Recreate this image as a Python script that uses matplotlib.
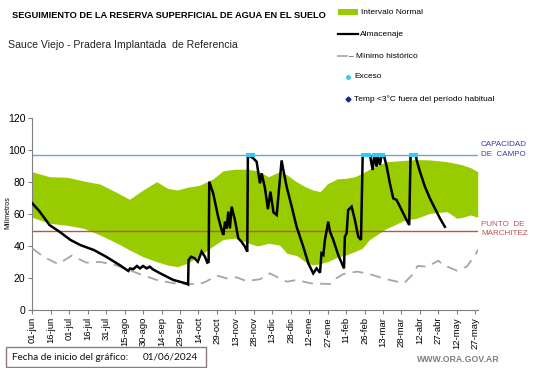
import matplotlib
matplotlib.use("Agg")
import matplotlib.pyplot as plt
from matplotlib.patches import Rectangle
from matplotlib.lines import Line2D

plt.rcParams['font.family'] = ['Liberation Sans', 'DejaVu Sans']

# ---- data (days since 01-jun-2024) ----
tick_labels = ['01-jun', '16-jun', '01-jul', '16-jul', '31-jul', '15-ago', '30-ago', '14-sep',
               '29-sep', '14-oct', '29-oct', '13-nov', '28-nov', '13-dic', '28-dic', '12-ene',
               '27-ene', '11-feb', '26-feb', '13-mar', '28-mar', '12-abr', '27-abr', '12-may', '27-may']
tick_days = [15 * i for i in range(len(tick_labels))]

band_days = [0, 14, 28, 42, 55, 69, 79, 90, 101, 110, 118, 126, 136, 147, 155, 165, 175, 183, 192, 201,
             207, 215, 222, 228, 234, 240, 248, 255, 262, 268, 274, 280, 288, 294, 302, 312, 323, 337,
             345, 350, 356, 362]
band_hi = [86.4, 83.3, 83, 80.6, 78.7, 73.3, 69.2, 75, 80.2, 76, 75, 76.7, 78, 82, 87, 88, 88, 87, 83.3, 86.5,
           84.4, 80, 77, 75, 74, 79, 82, 82.3, 83.3, 85.4, 88, 90, 92.7, 93, 93.5, 94, 93.8, 92.7,
           91.5, 90.6, 89, 86.5]
band_lo = [57.9, 54.2, 53, 51, 46.9, 41.7, 37.5, 33.3, 30.2, 28.1, 27.1, 29.2, 34, 40, 44, 45, 42, 40, 41.7, 40.6,
           35.4, 34, 30, 28.1, 29, 30.2, 33, 34.4, 36.5, 38.5, 44, 47, 51, 53, 56, 57.3, 60.4, 61.5,
           57.3, 58, 59.4, 58]

min_days = [0, 9, 21, 32, 44, 55, 66, 77, 88, 101, 115, 126, 136, 141, 150, 158, 166, 174, 185, 193,
            201, 207, 215, 226, 242, 247, 253, 264, 274, 285, 302, 310, 313, 321, 330, 334, 345, 353, 359, 363]
min_vals = [38.5, 33.3, 28.7, 34, 29.6, 30, 28.5, 25.4, 22.3, 18.8, 16.7, 16.2, 16.2, 17.7, 21.5, 19.8, 20.4,
            18.1, 19.2, 22.9, 19.8, 17.7, 18.8, 16.7, 16.2, 19.8, 22.5, 24, 22.5, 19.8, 16.7, 22.9, 27.5,
            27.1, 30.8, 28.1, 24.6, 27.1, 33.3, 38.5]

alm_days = [0, 6, 10, 14, 22, 31, 39, 50, 60, 71,
            78, 79.5, 82, 85, 87.5, 90, 93, 95.5, 98, 104,
            114.5, 125.4, 126.6, 127, 129, 132, 134.5, 137.6, 140.3, 142.2,
            143.3, 143.8, 147, 151, 153.9, 155.2, 156.6, 157.9, 159.3, 160.6,
            162, 164.7, 167.4, 170, 172.8, 174.7, 175.2, 179.6, 182.3, 185,
            186.4, 189.1, 191.5, 193.5, 196, 198.6, 202.6, 204, 206.7, 210.8, 214.8,
            220.2, 224.3, 228.3, 231, 233.8, 235, 236.5, 237.8, 240.5, 241.9,
            244.6, 248.6, 253.3, 254, 255.4, 256.7, 259.5, 262.2, 264.9, 267.1,
            268.5, 274.4, 276.6, 277.9, 279.8, 280.6, 282.5, 283.9, 286, 288,
            290.6, 293.3, 296, 297.4, 298.8, 302.8, 306.3, 307.4, 311.7, 312.3,
            315, 319.1, 323.1, 327.2, 331.3, 335.3]
alm_vals = [66.7, 61.5, 57.3, 53.1, 49, 43.8, 40.6, 37.5, 33.3, 28.1,
            24.4, 26, 25.5, 27.5, 26, 27.5, 26, 27.1, 25.4, 22.9,
            18.8, 16.5, 16, 31.2, 33.3, 32.3, 30.2, 36.5, 33.3, 29.6,
            30, 80.2, 72.9, 58.3, 50, 46.9, 55.2, 51, 61.5, 51,
            64.6, 56.2, 44.8, 42.7, 39.6, 36.5, 96.9, 94.8, 92.7, 79.2,
            85.4, 76, 63, 74, 61, 59.4, 93.5, 87.5, 77, 64.6, 52,
            39.6, 29.2, 22.9, 26, 23.3, 35.4, 34.4, 43.8, 55.2, 49,
            43.8, 34.4, 26, 45.8, 47.9, 62.5, 64.6, 56.2, 45.8, 43.8,
            96.9, 96.9, 87.5, 96.9, 89.6, 96.9, 90.6, 96.9, 95.8, 89.6,
            79.2, 69.8, 68.8, 66.7, 64.6, 58.3, 53.1, 96.9, 96.9, 93.8,
            86.5, 77, 69.8, 63.5, 57.3, 52]

exceso_days = [175, 176, 177, 178, 179, 269, 270, 271, 272, 273, 274, 278, 280, 281, 282, 284, 285,
               308, 309, 310, 311, 312]
capacidad_campo = 96.9
punto_marchitez = 49.4

# ---- figure ----
W, H = 541, 368
fig = plt.figure(figsize=(W / 100, H / 100), dpi=100)
ax = fig.add_axes([32.3 / W, 1 - 310 / H, (478 - 32.3) / W, (310 - 118) / H])

ax.fill_between(band_days, band_lo, band_hi, color='#99CC00', linewidth=0, zorder=1)
ax.axhline(capacidad_campo, color='#7F9CCF', lw=1.0, zorder=2)
ax.axhline(punto_marchitez, color='#C0504D', lw=1.0, zorder=2)
ax.plot(min_days, min_vals, color='#A6A6A6', lw=1.3, dashes=(6, 4), zorder=3)
ax.plot(alm_days, alm_vals, color='black', lw=1.8, zorder=4, solid_joinstyle='miter')
ax.scatter(exceso_days, [capacidad_campo] * len(exceso_days), s=9, marker='s', color='#33CCEE',
           linewidths=0, zorder=5)

ax.set_xlim(0, 362.2)
ax.set_ylim(0, 120)
ax.set_xticks(tick_days)
ax.set_xticklabels(tick_labels, rotation=90, fontsize=6.8)
ax.set_yticks(range(0, 121, 20))
ax.tick_params(axis='y', labelsize=7.5, length=3, color='#808080', pad=2)
ax.tick_params(axis='x', length=3, color='#808080', pad=2)
for s in ['top', 'right']:
    ax.spines[s].set_visible(False)
for s in ['left', 'bottom']:
    ax.spines[s].set_color('#808080')
ax.set_facecolor('none')
fig.text(7.5 / W, 1 - 213 / H, 'Milímetros', fontsize=5, rotation=90, va='center', ha='center')

# right annotations
fig.text(481 / W, 1 - 145 / H, 'CAPACIDAD', fontsize=5.8, color='#3B3BA8', va='center', ha='left')
fig.text(481 / W, 1 - 154 / H, 'DE  CAMPO', fontsize=5.8, color='#3B3BA8', va='center', ha='left')
fig.text(481 / W, 1 - 225 / H, 'PUNTO  DE', fontsize=5.8, color='#C0504D', va='center', ha='left')
fig.text(481 / W, 1 - 233.5 / H, 'MARCHITEZ', fontsize=5.8, color='#C0504D', va='center', ha='left')

# titles
fig.text(12 / W, 1 - 15 / H, 'SEGUIMIENTO DE LA RESERVA SUPERFICIAL DE AGUA EN EL SUELO',
         fontsize=6.7, fontweight='bold', va='center', ha='left')
fig.text(8 / W, 1 - 45 / H, 'Sauce Viejo - Pradera Implantada  de Referencia',
         fontsize=7.6, va='center', ha='left', color='#222222')

# legend (manual)
fig.patches.append(Rectangle((338 / W, 1 - 15 / H), 20 / W, 6 / H, transform=fig.transFigure,
                             facecolor='#99CC00', edgecolor='none'))
fig.lines.append(Line2D([338 / W, 358 / W], [1 - 33.5 / H, 1 - 33.5 / H], transform=fig.transFigure,
                        color='black', lw=1.6))
fig.lines.append(Line2D([338 / W, 347 / W], [1 - 56 / H, 1 - 56 / H], transform=fig.transFigure,
                        color='#A6A6A6', lw=1.2))
fig.lines.append(Line2D([348 / W], [1 - 77 / H], transform=fig.transFigure, marker='o', ms=2.5,
                        color='#33CCEE', lw=0))
fig.lines.append(Line2D([348 / W], [1 - 99 / H], transform=fig.transFigure, marker='D', ms=2.5,
                        color='#1F1F99', lw=0))
leg_fs = 6
fig.text(361 / W, 1 - 12 / H, 'Intervalo Normal', fontsize=leg_fs, va='center', ha='left')
fig.text(360 / W, 1 - 34 / H, 'Almacenaje', fontsize=leg_fs, va='center', ha='left')
fig.text(349 / W, 1 - 56 / H, '– Mínimo histórico', fontsize=leg_fs, va='center', ha='left')
fig.text(354 / W, 1 - 77 / H, 'Exceso', fontsize=leg_fs, va='center', ha='left')
fig.text(354 / W, 1 - 99 / H, 'Temp <3°C fuera del período habitual', fontsize=leg_fs,
         va='center', ha='left')

# bottom box
fig.patches.append(Rectangle((6 / W, 1 - 367 / H), 200 / W, 20 / H, transform=fig.transFigure,
                             facecolor='white', edgecolor='#8C7B7B', lw=1.0))
fig.text(12 / W, 1 - 357.5 / H, 'Fecha de inicio del gráfico:', fontsize=7.2, family='Lato',
         va='center', ha='left', color='#111111')
fig.text(143 / W, 1 - 357.5 / H, '01/06/2024', fontsize=7.2, family='Lato',
         va='center', ha='left', color='#111111')
fig.text(500 / W, 1 - 360 / H, 'WWW.ORA.GOV.AR', fontsize=6.3, fontweight='bold', color='#808080',
         va='center', ha='right')

fig.savefig('out.png', dpi=100)
